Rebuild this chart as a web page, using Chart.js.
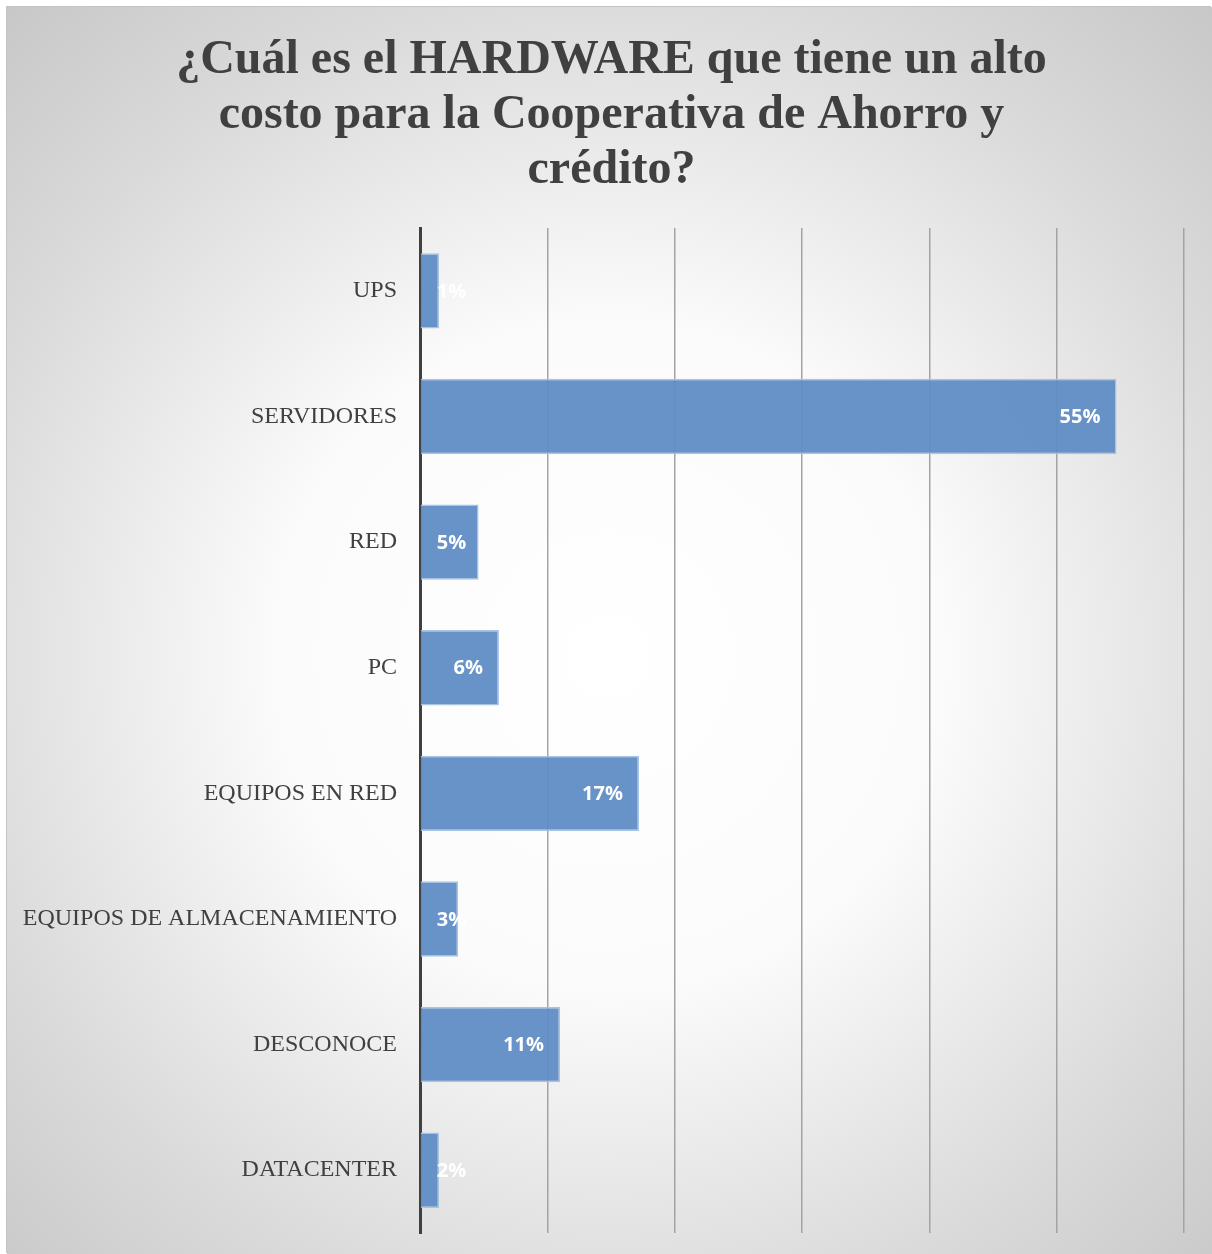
<!DOCTYPE html>
<html>
<head>
<meta charset="utf-8">
<script src="https://cdn.jsdelivr.net/npm/chart.js@4.4.1/dist/chart.umd.min.js"></script>
<style>
  html, body { margin: 0; padding: 0; background: #ffffff; width: 1212px; height: 1254px; overflow: hidden; }
  #wrap { position: absolute; left: 6px; top: 6px; width: 1205px; height: 1247px; border: 1px solid #c4c4c4; box-sizing: border-box; }
  canvas { display: block; }
</style>
</head>
<body>
<div id="wrap"><canvas id="c" width="1205" height="1247"></canvas></div>
<script>
const titleLines = ["¿Cuál es el HARDWARE que tiene un alto", "costo para la Cooperativa de Ahorro y", "crédito?"];
const categories = ["UPS", "SERVIDORES", "RED", "PC", "EQUIPOS EN RED", "EQUIPOS DE ALMACENAMIENTO", "DESCONOCE", "DATACENTER"];
const values = [1.5, 54.7, 4.6, 6.2, 17.2, 3.0, 11.0, 1.5];
const valueLabels = ["1%", "55%", "5%", "6%", "17%", "3%", "11%", "2%"];
const xMax = 60;
const xStep = 10;

const bgPlugin = {
  id: 'bg',
  beforeDraw(chart) {
    const { ctx, width, height } = chart;
    ctx.save();
    const cx = width * 0.5, cy = height * 0.52;
    const g = ctx.createRadialGradient(cx, cy, 0, cx, cy, Math.hypot(width, height) * 0.55);
    g.addColorStop(0, '#ffffff');
    g.addColorStop(0.35, '#fbfbfb');
    g.addColorStop(0.7, '#dadada');
    g.addColorStop(1, '#c2c2c2');
    ctx.fillStyle = g;
    ctx.fillRect(0, 0, width, height);
    ctx.font = 'bold 48px "Liberation Serif", "Times New Roman", serif';
    ctx.fillStyle = '#404040';
    ctx.textAlign = 'center';
    ctx.textBaseline = 'middle';
    const lineYs = [53.5, 109, 163.5];
    titleLines.forEach((t, i) => ctx.fillText(t, 604.5, lineYs[i]));
    ctx.restore();
  }
};

const labelPlugin = {
  id: 'vlabels',
  afterDatasetsDraw(chart) {
    const { ctx } = chart;
    const meta = chart.getDatasetMeta(0);
    ctx.save();
    ctx.font = 'bold 20px "Open Sans"';
    ctx.fillStyle = '#ffffff';
    ctx.textBaseline = 'middle';
    ctx.textAlign = 'left';
    meta.data.forEach((bar, i) => {
      const t = valueLabels[i];
      const w = ctx.measureText(t).width;
      const x = Math.max(bar.base + 16, bar.x - 16 - w);
      ctx.fillText(t, x, bar.y + 1);
    });
    ctx.restore();
  }
};

new Chart(document.getElementById('c'), {
  type: 'bar',
  data: {
    labels: categories,
    datasets: [{
      data: values,
      backgroundColor: 'rgba(96,141,197,0.95)',
      borderColor: '#a9c3e3',
      borderWidth: 1.5,
      borderSkipped: 'start',
      barPercentage: 0.6,
      categoryPercentage: 1.0
    }]
  },
  options: {
    indexAxis: 'y',
    responsive: false,
    animation: false,
    layout: { padding: { left: 0, right: 28, top: 221, bottom: 21 } },
    plugins: {
      legend: { display: false },
      tooltip: { enabled: false },
      title: { display: false }
    },
    scales: {
      x: {
        min: 0,
        max: xMax,
        afterFit(s) { s.height = 0; },
        ticks: { display: false, stepSize: xStep },
        grid: { color: '#a3a3a3', lineWidth: 1.5, drawTicks: false },
        border: { display: false }
      },
      y: {
        afterFit(s) { s.width = 413; s.paddingTop = 0; s.paddingBottom = 0; },
        ticks: {
          color: '#404040',
          padding: 23,
          font: { family: '"Liberation Serif", "Times New Roman", serif', size: 24 }
        },
        grid: { display: false, drawTicks: false },
        border: { display: true, color: '#404040', width: 3 }
      }
    }
  },
  plugins: [bgPlugin, labelPlugin]
});
</script>
</body>
</html>
